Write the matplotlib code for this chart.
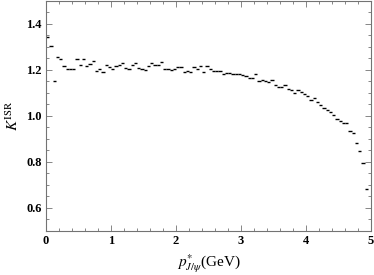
import numpy as np
import matplotlib
matplotlib.use("Agg")
import matplotlib.pyplot as plt
from matplotlib.ticker import MultipleLocator

plt.rcParams["font.family"] = ["Liberation Serif", "DejaVu Serif"]
plt.rcParams["mathtext.fontset"] = "stix"

# K^ISR per p* bin (bin width 0.05 GeV, starting at 0)
BIN_WIDTH = 0.05
k_isr = [
    1.341, 1.302, 1.150, 1.257, 1.248, 1.214, 1.205, 1.205, 1.205, 1.247,
    1.222, 1.247, 1.218, 1.224, 1.237, 1.195, 1.205, 1.192, 1.220, 1.211,
    1.202, 1.214, 1.220, 1.230, 1.208, 1.205, 1.220, 1.231, 1.208, 1.205,
    1.199, 1.217, 1.228, 1.222, 1.220, 1.234, 1.202, 1.205, 1.199, 1.205,
    1.211, 1.211, 1.191, 1.195, 1.191, 1.211, 1.205, 1.217, 1.191, 1.217,
    1.205, 1.196, 1.196, 1.195, 1.182, 1.185, 1.187, 1.182, 1.180, 1.180,
    1.176, 1.173, 1.162, 1.164, 1.180, 1.153, 1.155, 1.150, 1.147, 1.156,
    1.133, 1.127, 1.124, 1.133, 1.116, 1.110, 1.098, 1.112, 1.104, 1.093,
    1.087, 1.070, 1.075, 1.060, 1.048, 1.032, 1.026, 1.017, 1.004, 0.988,
    0.977, 0.970, 0.967, 0.932, 0.926, 0.884, 0.845, 0.793, 0.684,
]

x_ticks = [0, 1, 2, 3, 4, 5]
y_ticks = [0.6, 0.8, 1.0, 1.2, 1.4]

fig = plt.figure(figsize=(3.74, 2.75), dpi=100)
ax = fig.add_axes([0.123, 0.16, 0.869, 0.838])

lo = np.arange(len(k_isr)) * BIN_WIDTH
ax.hlines(k_isr, lo, lo + BIN_WIDTH, colors="black", lw=1.0)

ax.set_xlim(0, 5)
ax.set_ylim(0.5, 1.5)
ax.set_xticks(x_ticks)
ax.set_yticks(y_ticks)
ax.xaxis.set_minor_locator(MultipleLocator(0.2))
ax.yaxis.set_minor_locator(MultipleLocator(0.05))
ax.set_xticklabels([str(t) for t in x_ticks], fontweight="bold", fontsize=9)
ax.set_yticklabels([f"{t:.1f}" for t in y_ticks], fontweight="bold", fontsize=9)
ax.tick_params(which="both", direction="in", top=True, right=True, color="0.45", width=0.6)
ax.tick_params(which="major", length=4, pad=3)
ax.tick_params(which="minor", length=2)
for s in ax.spines.values():
    s.set_color("0.45")
    s.set_linewidth(0.8)

ax.set_xlabel(r"$p^{*}_{J/\psi}$(GeV)", fontsize=11, labelpad=4)
ax.set_ylabel(r"$K^{\rm ISR}$", fontsize=11, labelpad=4)

fig.savefig("out.png", dpi=100)
